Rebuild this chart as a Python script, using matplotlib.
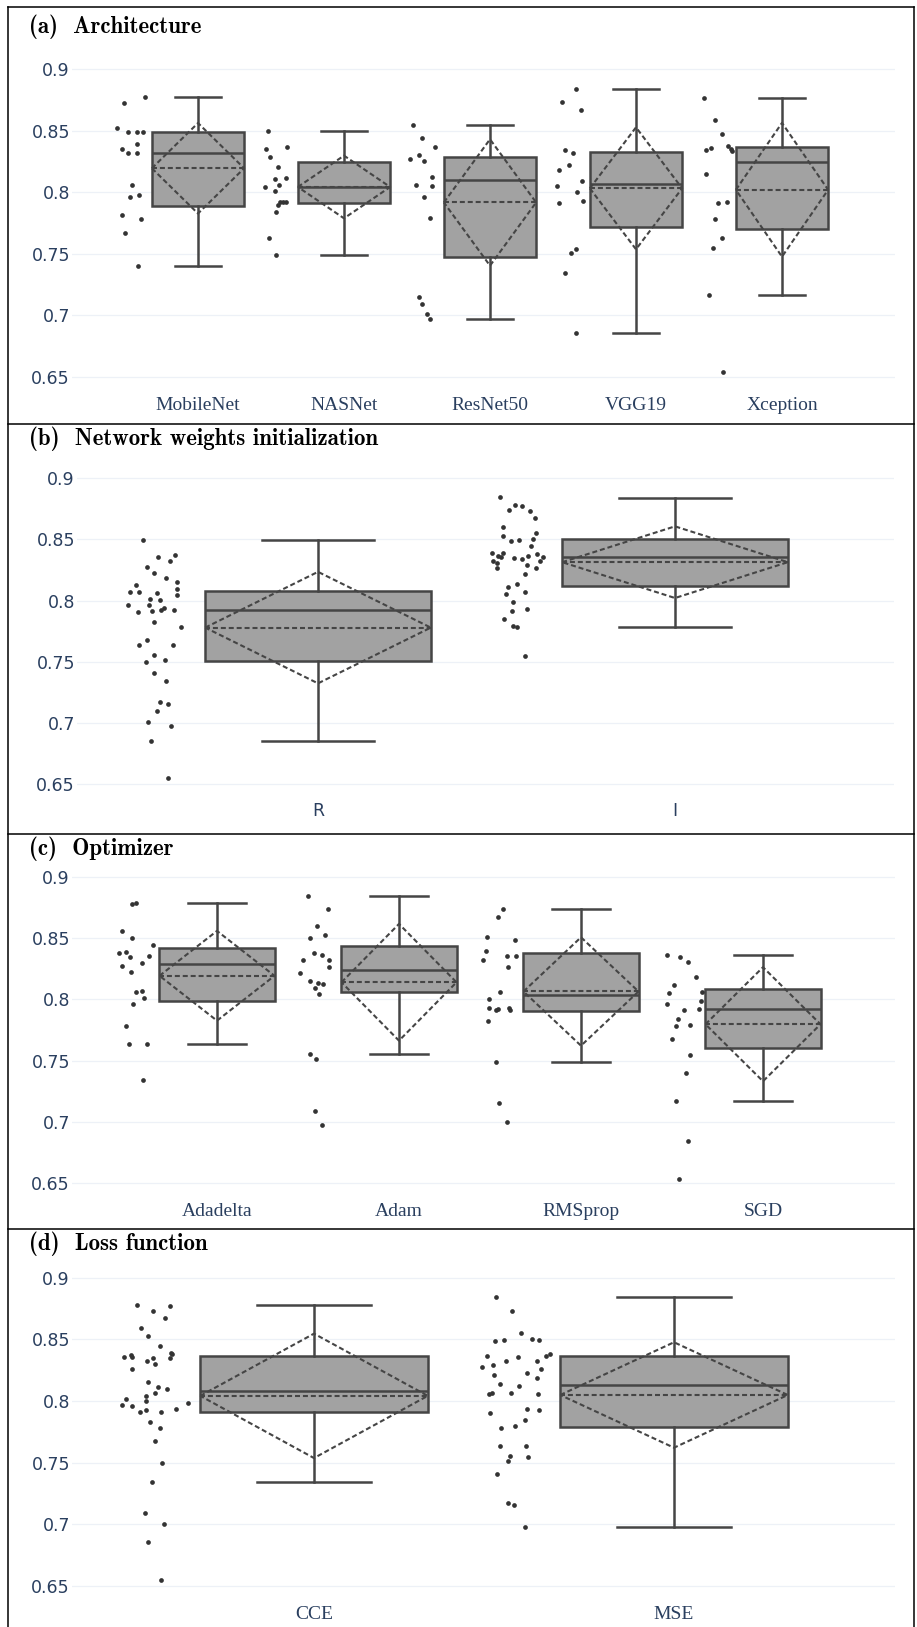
import matplotlib
matplotlib.use("Agg")
import matplotlib.pyplot as plt
from matplotlib.lines import Line2D

W, H = 917, 1627

# ---------------- (a) Architecture ----------------
arch_cats = ["MobileNet", "NASNet", "ResNet50", "VGG19", "Xception"]
arch_q1 = [0.7886, 0.7910, 0.7471, 0.7720, 0.7704]
arch_med = [0.8320, 0.8046, 0.8097, 0.8070, 0.8243]
arch_q3 = [0.8488, 0.8249, 0.8284, 0.8330, 0.8371]
arch_lo = [0.7400, 0.7487, 0.6969, 0.6852, 0.7167]
arch_hi = [0.8778, 0.8498, 0.8547, 0.8840, 0.8770]
arch_mean = [0.8195, 0.8043, 0.7917, 0.8032, 0.8020]
arch_sd = [0.0368, 0.0255, 0.0514, 0.0496, 0.0544]
arch_pts = [
    [0.8525, 0.8729, 0.8778, 0.8488, 0.8488, 0.8488, 0.8349, 0.8317, 0.8390,
     0.8317, 0.8059, 0.7959, 0.7978, 0.7818, 0.7780, 0.7666, 0.7400],
    [0.8498, 0.8349, 0.8368, 0.8290, 0.8208, 0.8108, 0.8119, 0.8059, 0.8040,
     0.8008, 0.7918, 0.7924, 0.7918, 0.7899, 0.7840, 0.7631, 0.7487],
    [0.8547, 0.8439, 0.8368, 0.8268, 0.8300, 0.8257, 0.8127, 0.8059, 0.8051,
     0.7959, 0.7788, 0.7151, 0.7088, 0.7007, 0.6969],
    [0.8840, 0.8732, 0.8672, 0.8341, 0.8317, 0.8222, 0.8178, 0.8089, 0.8051,
     0.8000, 0.7932, 0.7913, 0.7541, 0.7509, 0.7341, 0.6852],
    [0.8770, 0.8591, 0.8477, 0.8347, 0.8360, 0.8379, 0.8349, 0.8338, 0.8151,
     0.7910, 0.7918, 0.7780, 0.7631, 0.7549, 0.7167, 0.6538],
]
arch_jit = [
    [-0.555, -0.507, -0.363, -0.479, -0.418, -0.377, -0.521, -0.479, -0.418,
     -0.418, -0.452, -0.466, -0.404, -0.521, -0.390, -0.500, -0.411],
    [-0.520, -0.534, -0.390, -0.507, -0.452, -0.473, -0.397, -0.445, -0.541,
     -0.473, -0.438, -0.418, -0.397, -0.452, -0.466, -0.514, -0.466],
    [-0.527, -0.466, -0.377, -0.548, -0.486, -0.452, -0.397, -0.507, -0.397,
     -0.452, -0.411, -0.486, -0.466, -0.432, -0.411],
    [-0.411, -0.507, -0.377, -0.486, -0.432, -0.459, -0.527, -0.370, -0.541,
     -0.404, -0.363, -0.527, -0.411, -0.445, -0.486, -0.411],
    [-0.534, -0.459, -0.411, -0.521, -0.486, -0.370, -0.349, -0.342, -0.521,
     -0.438, -0.377, -0.459, -0.411, -0.473, -0.500, -0.404],
]

# ---------------- (b) Network weights initialization ----------------
init_cats = ["R", "I"]
init_q1 = [0.7506, 0.8122]
init_med = [0.7926, 0.8354]
init_q3 = [0.8081, 0.8501]
init_lo = [0.6854, 0.7784]
init_hi = [0.8496, 0.8842]
init_mean = [0.7779, 0.8314]
init_sd = [0.0456, 0.0293]
init_pts = [
    [0.8496, 0.8357, 0.8376, 0.8278, 0.8327, 0.8226, 0.8188, 0.8125, 0.8155, 0.8068,
     0.8068, 0.8059, 0.8016, 0.8092, 0.8043, 0.7967, 0.7967, 0.8005, 0.7907, 0.7918,
     0.7926, 0.7937, 0.7926, 0.7825, 0.7784, 0.7678, 0.7637, 0.7637, 0.7555, 0.7517,
     0.7495, 0.7405, 0.7345, 0.7173, 0.7157, 0.7094, 0.7007, 0.6977, 0.6854, 0.6546],
    [0.8845, 0.8738, 0.8785, 0.8771, 0.8733, 0.8676, 0.8599, 0.8553, 0.8526, 0.8485,
     0.8493, 0.8507, 0.8444, 0.8387, 0.8367, 0.8392, 0.8357, 0.8324, 0.8305, 0.8267,
     0.8346, 0.8343, 0.8367, 0.8378, 0.8354, 0.8321, 0.8294, 0.8267, 0.8215, 0.8114,
     0.8136, 0.8054, 0.8068, 0.7986, 0.7918, 0.7934, 0.7847, 0.7795, 0.7781, 0.7544],
]
init_jit = [
    [-0.491, -0.447, -0.401, -0.479, -0.414, -0.460, -0.426, -0.510, -0.395, -0.527,
     -0.501, -0.450, -0.471, -0.395, -0.395, -0.533, -0.472, -0.442, -0.505, -0.466,
     -0.440, -0.431, -0.402, -0.459, -0.384, -0.479, -0.501, -0.406, -0.459, -0.429,
     -0.483, -0.459, -0.427, -0.443, -0.419, -0.452, -0.475, -0.411, -0.468, -0.421],
    [-0.490, -0.464, -0.447, -0.429, -0.406, -0.391, -0.483, -0.389, -0.481, -0.459,
     -0.437, -0.397, -0.403, -0.514, -0.497, -0.483, -0.488, -0.511, -0.498, -0.498,
     -0.452, -0.428, -0.412, -0.386, -0.369, -0.377, -0.415, -0.388, -0.420, -0.468,
     -0.442, -0.474, -0.419, -0.453, -0.457, -0.415, -0.478, -0.455, -0.443, -0.419],
]

# ---------------- (c) Optimizer ----------------
opt_cats = ["Adadelta", "Adam", "RMSprop", "SGD"]
opt_q1 = [0.7984, 0.8060, 0.7905, 0.7603]
opt_med = [0.8288, 0.8236, 0.8038, 0.7918]
opt_q3 = [0.8418, 0.8435, 0.8375, 0.8084]
opt_lo = [0.7633, 0.7552, 0.7492, 0.7171]
opt_hi = [0.8785, 0.8845, 0.8734, 0.8364]
opt_mean = [0.8192, 0.8139, 0.8064, 0.7797]
opt_sd = [0.0366, 0.0476, 0.0442, 0.0465]
opt_pts = [
    [0.8777, 0.8783, 0.8554, 0.8497, 0.8443, 0.8375, 0.8383, 0.8342, 0.8353, 0.8274,
     0.8223, 0.8293, 0.8060, 0.8065, 0.8014, 0.7965, 0.7780, 0.7633, 0.7633, 0.7340],
    [0.8845, 0.8734, 0.8595, 0.8497, 0.8522, 0.8323, 0.8375, 0.8361, 0.8323, 0.8264,
     0.8212, 0.8152, 0.8133, 0.8122, 0.8092, 0.8043, 0.7554, 0.7511, 0.7090, 0.6973],
    [0.8736, 0.8674, 0.8505, 0.8486, 0.8394, 0.8353, 0.8353, 0.8323, 0.8264, 0.8062,
     0.8003, 0.7932, 0.7913, 0.7924, 0.7930, 0.7913, 0.7823, 0.7492, 0.7152, 0.7000],
    [0.8364, 0.8345, 0.8302, 0.8185, 0.8114, 0.8054, 0.8062, 0.7965, 0.7984, 0.7913,
     0.7924, 0.7842, 0.7783, 0.7793, 0.7674, 0.7543, 0.7402, 0.7171, 0.6848, 0.6538],
]
opt_jit = [
    [-0.469, -0.443, -0.522, -0.467, -0.353, -0.538, -0.502, -0.478, -0.375, -0.524,
     -0.473, -0.414, -0.445, -0.414, -0.403, -0.460, -0.502, -0.485, -0.386, -0.408],
    [-0.498, -0.390, -0.451, -0.491, -0.407, -0.529, -0.465, -0.423, -0.385, -0.383,
     -0.546, -0.489, -0.445, -0.416, -0.460, -0.441, -0.489, -0.456, -0.460, -0.423],
    [-0.430, -0.454, -0.515, -0.363, -0.520, -0.405, -0.359, -0.540, -0.399, -0.443,
     -0.504, -0.505, -0.467, -0.458, -0.394, -0.392, -0.511, -0.469, -0.449, -0.407],
    [-0.529, -0.456, -0.414, -0.366, -0.491, -0.516, -0.337, -0.529, -0.342, -0.434,
     -0.350, -0.465, -0.480, -0.399, -0.500, -0.399, -0.421, -0.476, -0.410, -0.462],
]

# ---------------- (d) Loss function ----------------
loss_cats = ["CCE", "MSE"]
loss_q1 = [0.7912, 0.7788]
loss_med = [0.8080, 0.8129]
loss_q3 = [0.8367, 0.8361]
loss_lo = [0.7344, 0.6973]
loss_hi = [0.8781, 0.8840]
loss_mean = [0.8041, 0.8048]
loss_sd = [0.0505, 0.0428]
loss_pts = [
    [0.8781, 0.8732, 0.8773, 0.8673, 0.8594, 0.8524, 0.8443, 0.8356, 0.8356, 0.8370,
     0.8345, 0.8324, 0.8302, 0.8345, 0.8378, 0.8386, 0.8261, 0.8153, 0.8113, 0.8094,
     0.8042, 0.8064, 0.8015, 0.8002, 0.7964, 0.7961, 0.7912, 0.7923, 0.7912, 0.7931,
     0.7983, 0.7826, 0.7782, 0.7674, 0.7493, 0.7341, 0.7093, 0.7003, 0.6852, 0.6543],
    [0.8840, 0.8732, 0.8554, 0.8486, 0.8494, 0.8502, 0.8494, 0.8364, 0.8324, 0.8356,
     0.8324, 0.8364, 0.8383, 0.8275, 0.8291, 0.8213, 0.8223, 0.8261, 0.8183, 0.8134,
     0.8123, 0.8053, 0.8061, 0.8064, 0.8056, 0.7904, 0.7934, 0.7923, 0.7845, 0.7782,
     0.7793, 0.7634, 0.7634, 0.7552, 0.7515, 0.7544, 0.7404, 0.7174, 0.7155, 0.6973],
]
loss_jit = [
    [-0.493, -0.447, -0.401, -0.414, -0.480, -0.461, -0.427, -0.528, -0.506, -0.507,
     -0.448, -0.465, -0.442, -0.400, -0.394, -0.398, -0.506, -0.462, -0.432, -0.407,
     -0.468, -0.442, -0.522, -0.467, -0.533, -0.505, -0.482, -0.467, -0.424, -0.383,
     -0.349, -0.456, -0.427, -0.443, -0.421, -0.450, -0.470, -0.416, -0.462, -0.424],
    [-0.494, -0.450, -0.426, -0.496, -0.473, -0.395, -0.376, -0.520, -0.466, -0.434,
     -0.381, -0.356, -0.345, -0.533, -0.503, -0.499, -0.407, -0.370, -0.381, -0.483,
     -0.431, -0.513, -0.505, -0.453, -0.378, -0.511, -0.408, -0.375, -0.414, -0.481,
     -0.442, -0.484, -0.410, -0.456, -0.461, -0.406, -0.492, -0.461, -0.445, -0.414],
]

# layout in pixels: title baseline, y of 0.9 and 0.65 grid, plot left/right,
# first category centre, category spacing, x label baseline
panels = [
    ("(a)", "Architecture", arch_cats, arch_pts, arch_jit, arch_q1, arch_med, arch_q3,
     arch_lo, arch_hi, arch_mean, arch_sd, (33, 69.3, 376.7, 72, 895, 198, 146, 410.5), "serif"),
    ("(b)", "Network weights initialization", init_cats, init_pts, init_jit, init_q1,
     init_med, init_q3, init_lo, init_hi, init_mean, init_sd,
     (445.5, 478.3, 784.0, 77, 894, 318, 357, 816.5), "sans"),
    ("(c)", "Optimizer", opt_cats, opt_pts, opt_jit, opt_q1, opt_med, opt_q3, opt_lo,
     opt_hi, opt_mean, opt_sd, (855, 876.7, 1183.3, 72, 895, 217, 182, 1216.5), "serif"),
    ("(d)", "Loss function", loss_cats, loss_pts, loss_jit, loss_q1, loss_med, loss_q3,
     loss_lo, loss_hi, loss_mean, loss_sd, (1250.5, 1277.7, 1585.7, 72, 895, 314, 360, 1619),
     "serif"),
]

EDGE = "#454545"
FILL = "#a2a2a2"
TICK = "#2a3f5f"
GRID = "#edf1f7"
HW = 0.316
YLO, YHI = 0.64, 0.91
DASH = (0, (2.4, 1.4))

fig = plt.figure(figsize=(W / 100, H / 100), dpi=100)
fig.patch.set_facecolor("white")

for (tag, name, cats, pts, jit, q1, med, q3, lo, hi, mean, sd, lay, xfont) in panels:
    tb, p90, p65, L, R, c0, sp, lb = lay
    ppu = (p65 - p90) / 0.25
    top = p90 - (YHI - 0.9) * ppu
    bot = p65 + (0.65 - YLO) * ppu
    ax = fig.add_axes([L / W, 1 - bot / H, (R - L) / W, (bot - top) / H])
    ax.set_ylim(YLO, YHI)
    ax.set_xlim((L - c0) / sp, (R - c0) / sp)
    for s in ax.spines.values():
        s.set_visible(False)

    ax.set_yticks([0.65, 0.7, 0.75, 0.8, 0.85, 0.9])
    ax.set_yticklabels(["0.65", "0.7", "0.75", "0.8", "0.85", "0.9"])
    ax.tick_params(axis="y", length=0, pad=1.5, labelsize=12.5, labelcolor=TICK)
    ax.grid(axis="y", color=GRID, lw=0.9, zorder=0)
    ax.set_axisbelow(True)

    n = len(cats)
    stats = []
    for i in range(n):
        stats.append(dict(med=med[i], q1=q1[i], q3=q3[i], whislo=lo[i], whishi=hi[i]))
    ax.bxp(stats, positions=list(range(n)), widths=2 * HW, capwidths=HW,
           patch_artist=True, showfliers=False, showmeans=False,
           boxprops=dict(facecolor=FILL, edgecolor=EDGE, linewidth=1.8),
           whiskerprops=dict(color=EDGE, linewidth=1.8),
           capprops=dict(color=EDGE, linewidth=1.8),
           medianprops=dict(color=EDGE, linewidth=1.8), zorder=3)

    for i in range(n):
        m, s = mean[i], sd[i]
        ax.plot([i - HW, i + HW], [m, m], color=EDGE, lw=1.5, linestyle=DASH, zorder=4)
        ax.plot([i - HW, i, i + HW, i, i - HW], [m, m + s, m, m - s, m], color=EDGE,
                lw=1.5, linestyle=DASH, zorder=4)
        xs = [i + d for d in jit[i]]
        ax.plot(xs, pts[i], "o", ms=3.4, color="#333333", mew=0, zorder=5)

    pad = (lb - bot) * 0.72
    ax.set_xticks(list(range(n)))
    if xfont == "serif":
        ax.set_xticklabels(cats, fontfamily="Liberation Serif", fontsize=14, color=TICK)
    else:
        ax.set_xticklabels(cats, fontfamily="DejaVu Sans", fontsize=12.5, color=TICK)
    ax.tick_params(axis="x", length=0, pad=pad)
    for t in ax.get_xticklabels():
        t.set_va("baseline")
    for t in ax.get_yticklabels():
        t.set_fontfamily("DejaVu Sans")

    fig.text(29 / W, 1 - tb / H, tag + "  " + name, fontfamily="cmb10",
             fontsize=16.5, color="black", ha="left", va="baseline")

# panel frames
for yy in [7, 424, 834, 1229]:
    fig.add_artist(Line2D([8 / W, 914 / W], [1 - yy / H, 1 - yy / H], color="black", lw=1.1))
for xx in [8, 914]:
    fig.add_artist(Line2D([xx / W, xx / W], [1 - 7 / H, 0], color="black", lw=1.1))

fig.savefig("out.png", dpi=100, facecolor="white")
